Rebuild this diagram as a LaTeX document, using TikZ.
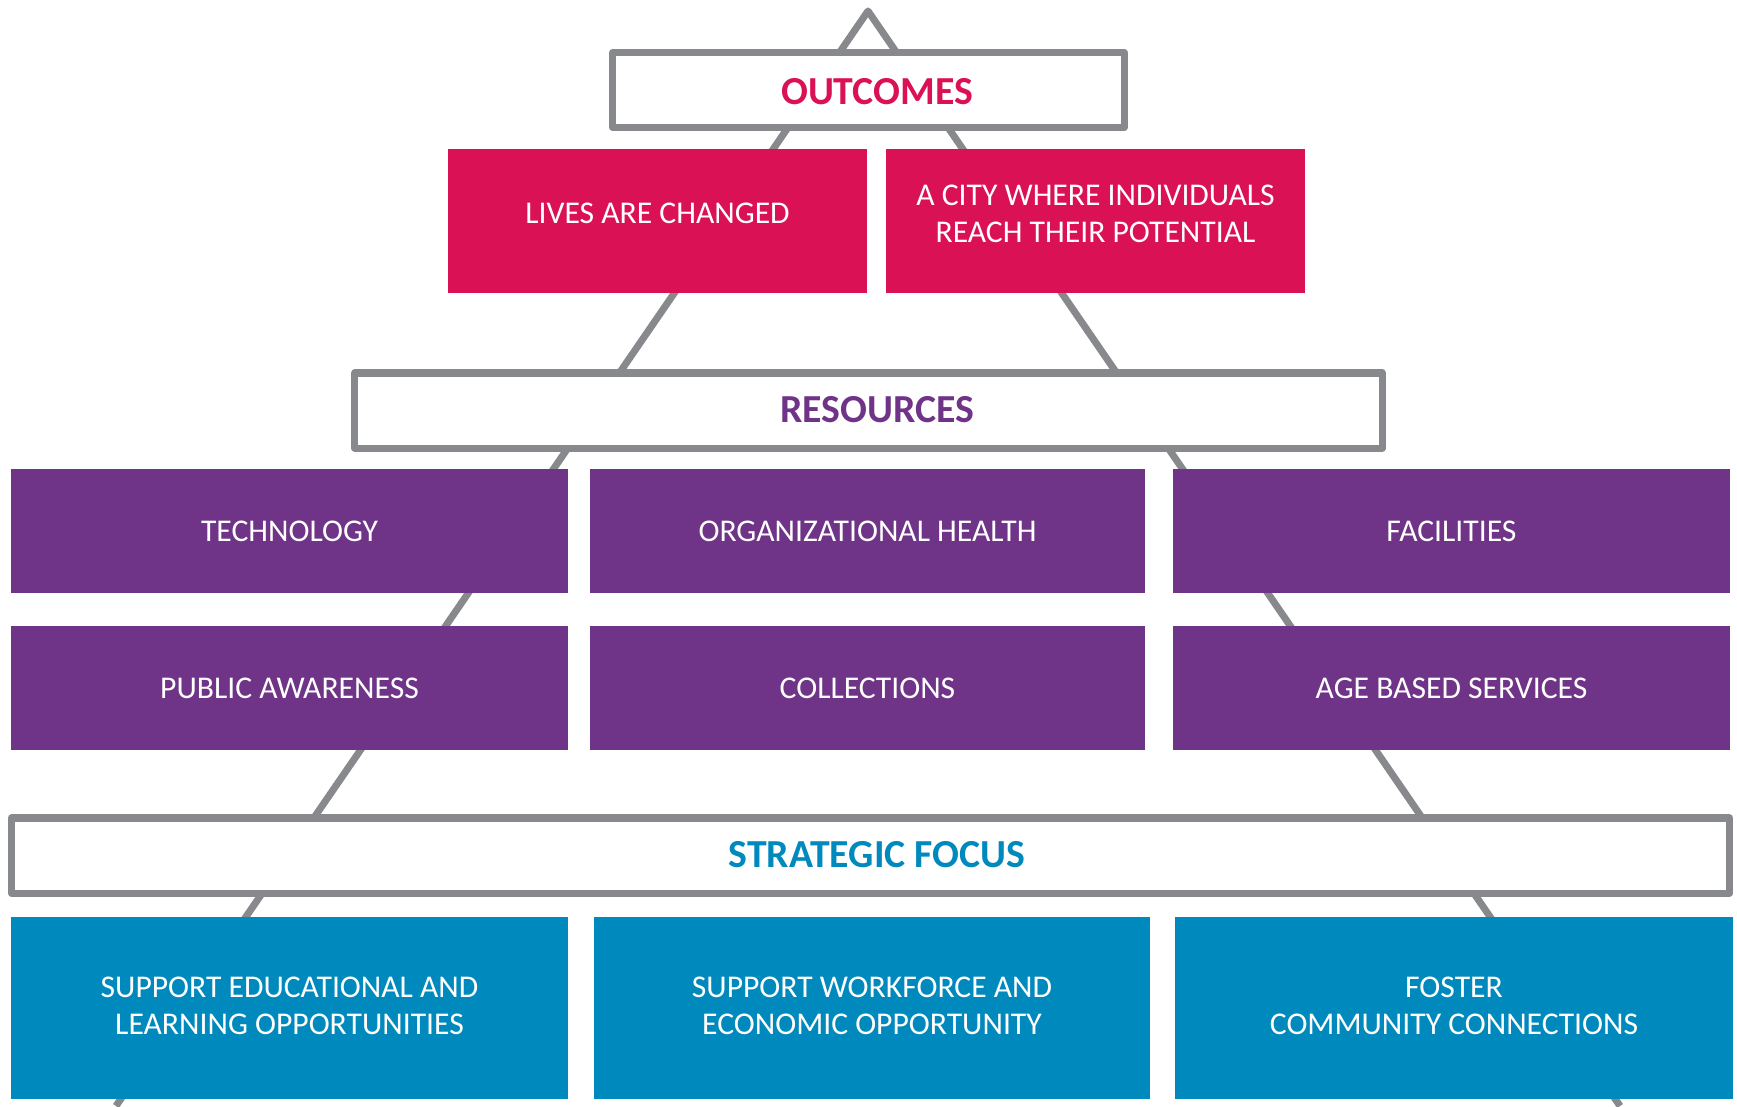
\documentclass[tikz,border=0pt]{standalone}
\usepackage{fontspec}
\setmainfont{Carlito}

\definecolor{outpink}{RGB}{218,17,84}
\definecolor{respurple}{RGB}{111,52,135}
\definecolor{focusblue}{RGB}{0,137,188}
\definecolor{framegray}{RGB}{136,137,140}

\tikzset{
	pyramid/.style={draw=framegray, line width=2pt, line join=round},
	headbox/.style={draw=framegray, fill=white, line width=2pt, line join=round, minimum height=0.75cm, inner sep=0pt},
	headtext/.style={inner sep=0pt, font=\fontsize{11.3pt}{13pt}\selectfont\bfseries},
	colbox/.style={inner sep=0pt, text=white, align=center, font=\fontsize{9pt}{10.8pt}\selectfont},
	pinkbox/.style={colbox, fill=outpink, minimum width=4.19cm, minimum height=1.44cm},
	purplebox/.style={colbox, fill=respurple, minimum width=5.57cm, minimum height=1.24cm},
	bluebox/.style={colbox, fill=focusblue, minimum width=5.57cm, minimum height=1.82cm}
}

\begin{document}
\begin{tikzpicture}[x=0.01cm, y=-0.01cm]

	%Background
	\useasboundingbox[fill=white] (0,0) rectangle (1737,1106);

	%Pyramid
	\coordinate (apex) at (868,11);
	\coordinate (baseleft) at (116,1106);
	\coordinate (baseright) at (1620,1106);
	\draw[pyramid] (baseleft) -- (apex) -- (baseright);

	%Outcomes
	\node[headbox, minimum width=5.11cm] (outcomes) at (868.5,90) {};
	\node[headtext, text=outpink] (outcomeslabel) at (877,92) {OUTCOMES};
	\node[pinkbox] (lives) at (657.5,221) {\raisebox{4.4pt}{LIVES ARE CHANGED}};
	\node[pinkbox] (city) at (1095.5,221) {\raisebox{4.4pt}{\shortstack{A CITY WHERE INDIVIDUALS\\[1.6pt]REACH THEIR POTENTIAL}}};

	%Resources
	\node[headbox, minimum width=10.27cm] (resources) at (868.5,410.5) {};
	\node[headtext, text=respurple] (resourceslabel) at (877,409.5) {RESOURCES};
	\node[purplebox] (technology) at (289.5,531) {TECHNOLOGY};
	\node[purplebox, minimum width=5.55cm] (orghealth) at (867.5,531) {\raisebox{-0.9pt}{ORGANIZATIONAL HEALTH}};
	\node[purplebox] (facilities) at (1451.5,531) {FACILITIES};
	\node[purplebox] (awareness) at (289.5,688) {PUBLIC AWARENESS};
	\node[purplebox, minimum width=5.55cm] (collections) at (867.5,688) {COLLECTIONS};
	\node[purplebox] (ageservices) at (1451.5,688) {AGE BASED SERVICES};

	%Strategic focus
	\node[headbox, minimum width=17.17cm] (focus) at (870.5,855.5) {};
	\node[headtext, text=focusblue] (focuslabel) at (877,854.5) {STRATEGIC FOCUS};
	\node[bluebox] (learning) at (289.5,1008) {\raisebox{1.2pt}{\shortstack{SUPPORT EDUCATIONAL AND\\[1.6pt]LEARNING OPPORTUNITIES}}};
	\node[bluebox, minimum width=5.56cm] (workforce) at (872,1008) {\raisebox{1.2pt}{\shortstack{SUPPORT WORKFORCE AND\\[1.6pt]ECONOMIC OPPORTUNITY}}};
	\node[bluebox] (community) at (1454,1008) {\raisebox{1.2pt}{\shortstack{FOSTER\\[1.6pt]COMMUNITY CONNECTIONS}}};

\end{tikzpicture}
\end{document}
